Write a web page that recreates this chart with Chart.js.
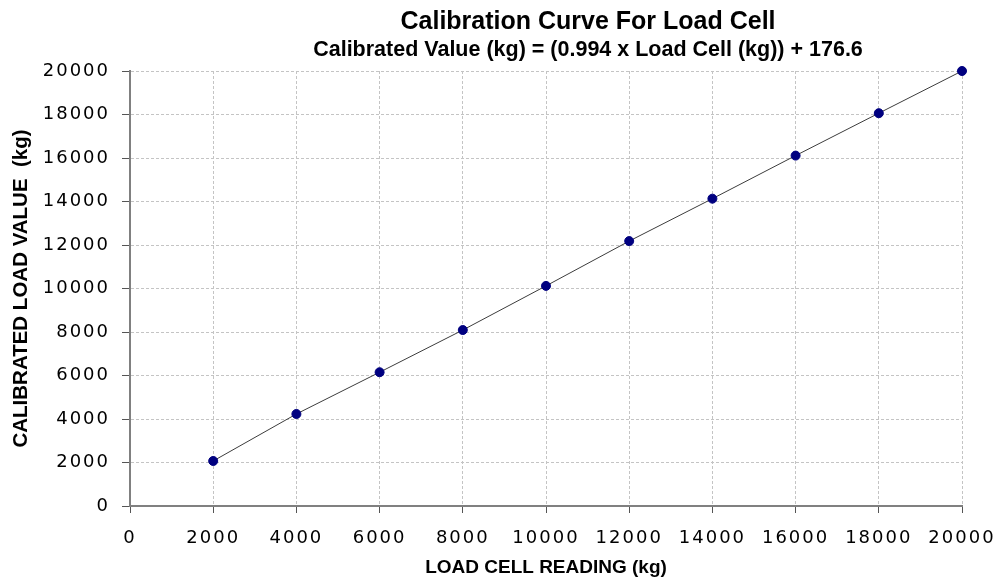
<!DOCTYPE html>
<html>
<head>
<meta charset="utf-8">
<script src="https://cdn.jsdelivr.net/npm/chart.js@4.4.1/dist/chart.umd.min.js"></script>
<style>
  html, body { margin: 0; padding: 0; background: #ffffff; }
  #wrap { position: relative; width: 996px; height: 579px; }
  canvas { display: block; }
</style>
</head>
<body>
<div id="wrap"><canvas id="c" width="996" height="579"></canvas></div>
<script>
// ---- data ----
const loadCellReading = [2000, 4000, 6000, 8000, 10000, 12000, 14000, 16000, 18000, 20000];
const calibratedValue = [2070, 4230, 6150, 8090, 10120, 12180, 14130, 16110, 18060, 20000];
const xTickValues = [0, 2000, 4000, 6000, 8000, 10000, 12000, 14000, 16000, 18000, 20000];
const yTickValues = [0, 2000, 4000, 6000, 8000, 10000, 12000, 14000, 16000, 18000, 20000];
const chartTitle = 'Calibration Curve For Load Cell';
const chartSubtitle = 'Calibrated Value (kg) = (0.994 x Load Cell (kg)) + 176.6';
const xTitle = 'LOAD CELL READING (kg)';
const yTitle = 'CALIBRATED LOAD VALUE  (kg)';

const points = loadCellReading.map((x, i) => ({ x: x, y: calibratedValue[i] }));

const titlePlugin = {
  id: 'customTitles',
  afterDatasetsDraw(chart) {
    chart.ctx.letterSpacing = '2px';
  },
  afterDraw(chart) {
    const ctx = chart.ctx;
    ctx.save();
    ctx.letterSpacing = '0px';
    ctx.fillStyle = '#000000';
    ctx.textAlign = 'center';
    ctx.textBaseline = 'middle';
    ctx.font = 'bold 25px "Liberation Sans", Arial, sans-serif';
    ctx.fillText(chartTitle, 588, 22);
    ctx.font = 'bold 21.5px "Liberation Sans", Arial, sans-serif';
    ctx.fillText(chartSubtitle, 588, 50);
    ctx.restore();
    ctx.letterSpacing = '0px';
  }
};

const gridCommon = {
  color: '#c4c4c4',
  lineWidth: 1,
  drawTicks: true,
  tickColor: '#555555',
  tickWidth: 1,
  tickBorderDash: [],
};
const borderCommon = { display: true, color: '#808080', width: 2, dash: [3, 2] };

new Chart(document.getElementById('c'), {
  type: 'scatter',
  data: {
    datasets: [{
      data: points,
      showLine: true,
      clip: false,
      borderColor: '#3c3c3c',
      borderWidth: 1,
      pointRadius: 4.5,
      pointHoverRadius: 4.5,
      pointBackgroundColor: '#000080',
      pointBorderColor: '#000080',
      pointBorderWidth: 1,
      tension: 0
    }]
  },
  options: {
    responsive: false,
    animation: false,
    devicePixelRatio: 1,
    layout: { padding: { top: 71, right: 34, left: 0, bottom: 0 } },
    plugins: {
      legend: { display: false },
      tooltip: { enabled: false },
      title: { display: false }
    },
    scales: {
      x: {
        type: 'linear',
        min: 0, max: 20000,
        afterBuildTicks: (s) => { s.ticks = xTickValues.map(v => ({ value: v })); },
        afterFit: (s) => { s.height = 73; s.paddingLeft = 0; s.paddingRight = 0; },
        ticks: {
          z: 1,
          color: '#000000',
          padding: 15,
          maxRotation: 0,
          autoSkip: false,
          font: { family: '"DejaVu Sans", sans-serif', size: 18 },
          callback: (v) => String(v)
        },
        grid: Object.assign({}, gridCommon, { tickLength: 7 }),
        border: borderCommon,
        title: {
          display: true,
          text: xTitle,
          color: '#000000',
          font: { family: '"Liberation Sans", Arial, sans-serif', size: 19, weight: 'bold' },
          padding: { top: 0, bottom: 0 }
        }
      },
      y: {
        type: 'linear',
        min: 0, max: 20000,
        afterBuildTicks: (s) => { s.ticks = yTickValues.map(v => ({ value: v })); },
        afterFit: (s) => { s.width = 130; s.paddingTop = 0; s.paddingBottom = 0; },
        ticks: {
          z: 1,
          color: '#000000',
          padding: 12,
          autoSkip: false,
          font: { family: '"DejaVu Sans", sans-serif', size: 18 },
          callback: (v) => String(v)
        },
        grid: Object.assign({}, gridCommon, { tickLength: 8 }),
        border: borderCommon,
        title: {
          display: true,
          text: yTitle,
          color: '#000000',
          font: { family: '"Liberation Sans", Arial, sans-serif', size: 20.5, weight: 'bold' },
          padding: { top: 9, bottom: 0 }
        }
      }
    }
  },
  plugins: [titlePlugin]
});
</script>
</body>
</html>
